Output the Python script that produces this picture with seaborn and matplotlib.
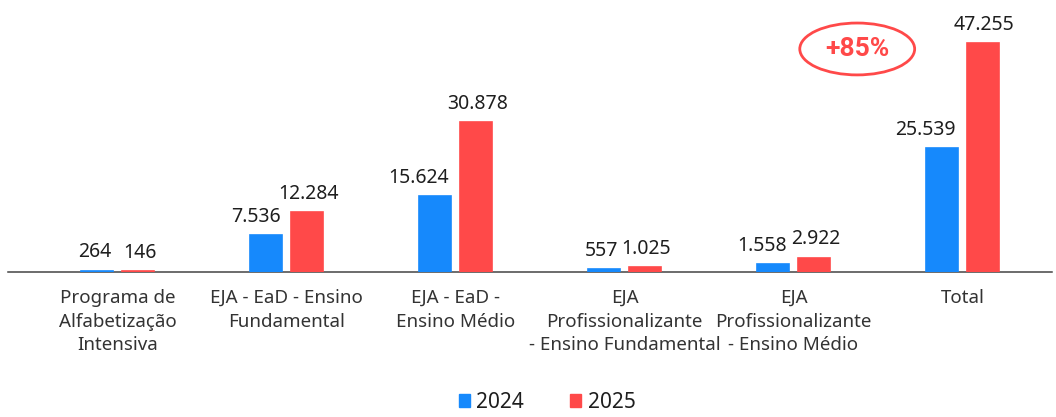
import matplotlib
matplotlib.use("Agg")
import matplotlib.pyplot as plt
from matplotlib.patches import Ellipse
import seaborn as sns
import pandas as pd

categories = [
    "Programa de\nAlfabetização\nIntensiva",
    "EJA - EaD - Ensino\nFundamental",
    "EJA - EaD -\nEnsino Médio",
    "EJA\nProfissionalizante\n- Ensino Fundamental",
    "EJA\nProfissionalizante\n- Ensino Médio",
    "Total",
]
years = ["2024", "2025"]
values_2024 = [264, 7536, 15624, 557, 1558, 25539]
values_2025 = [146, 12284, 30878, 1025, 2922, 47255]
growth_label = "+85%"

blue = "#1689FC"
red = "#FF4949"
text_color = "#1e1e1e"

sns.set_theme(style="white")
plt.rcParams["font.family"] = ["Noto Sans", "DejaVu Sans"]

df = pd.DataFrame({
    "categoria": categories * 2,
    "ano": [years[0]] * len(categories) + [years[1]] * len(categories),
    "valor": values_2024 + values_2025,
})

fig = plt.figure(figsize=(10.56, 4.17), dpi=100)
ax = fig.add_axes([8 / 1056, 145 / 417, 1044 / 1056, 272 / 417])

sns.barplot(data=df, x="categoria", y="valor", hue="ano",
            palette=[blue, red], width=0.485, gap=0.215,
            saturation=1, ax=ax, legend=False)

# thin same-colour outline keeps the tiny bars visible above the baseline
for container, color in zip(ax.containers, (blue, red)):
    for bar in container:
        bar.set_edgecolor(color)
        bar.set_linewidth(1.2)
        bar.set_zorder(4)


def fmt(v):
    return f"{int(v):,}".replace(",", ".")


# 2024 labels sit right-aligned on their bar, 2025 labels centred
for bar in ax.containers[0]:
    x = bar.get_x() + bar.get_width()
    ax.annotate(fmt(bar.get_height()), (x, bar.get_height()),
                xytext=(-1.5, 6), textcoords="offset points",
                ha="right", va="bottom", fontsize=14, color=text_color)
for bar in ax.containers[1]:
    x = bar.get_x() + bar.get_width() / 2
    ax.annotate(fmt(bar.get_height()), (x, bar.get_height()),
                xytext=(1, 6), textcoords="offset points",
                ha="center", va="bottom", fontsize=14, color=text_color)

ax.set_xlim(-0.65, 5.53)
ax.set_ylim(0, 56100)
ax.set_xlabel("")
ax.set_ylabel("")
ax.set_yticks([])
ax.tick_params(axis="x", length=0, pad=12, labelsize=13.5, labelcolor="#333333")
for lbl in ax.get_xticklabels():
    lbl.set_linespacing(1.42)
    lbl.set_verticalalignment("top")

for side in ["top", "right", "left"]:
    ax.spines[side].set_visible(False)
ax.spines["bottom"].set_color("#444444")
ax.spines["bottom"].set_linewidth(1.1)
ax.spines["bottom"].set_zorder(2)

# highlight of the total growth
ell = Ellipse((4.377, 46000), width=0.68, height=10700, fill=False,
              edgecolor=red, linewidth=2, transform=ax.transData, clip_on=False)
ax.add_patch(ell)
ax.text(4.377, 46000, growth_label, ha="center", va="center", fontsize=19,
        fontweight="bold", color=red, family=["Roboto", "DejaVu Sans"])

handles = [plt.Rectangle((0, 0), 1, 1, color=c) for c in (blue, red)]
fig.legend(handles, years, loc="lower center", bbox_to_anchor=(0.518, -0.035),
           ncol=2, frameon=False, fontsize=15, handlelength=0.55,
           handleheight=0.55, handletextpad=0.3, columnspacing=2.2,
           labelcolor=text_color)

fig.savefig("out.png", dpi=100)
